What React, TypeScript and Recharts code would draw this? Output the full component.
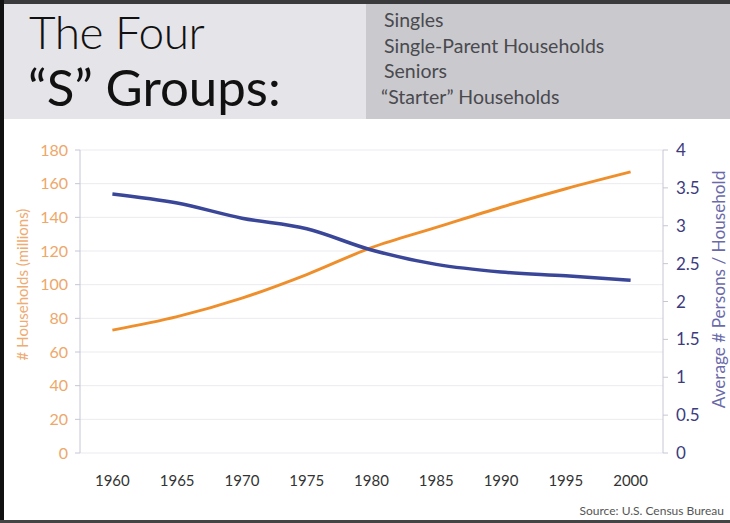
import React from 'react';
import { LineChart, Line, XAxis, YAxis, CartesianGrid } from 'recharts';

const years = [1960, 1965, 1970, 1975, 1980, 1985, 1990, 1995, 2000];
const households = [73, 81, 92, 106, 122, 134, 146, 157, 167]; // millions
const personsPerHousehold = [3.42, 3.3, 3.1, 2.96, 2.68, 2.49, 2.39, 2.34, 2.28];
const householdTicks = [0, 20, 40, 60, 80, 100, 120, 140, 160, 180];
const personTicks = [0, 0.5, 1, 1.5, 2, 2.5, 3, 3.5, 4];
// tick marks sit between the year labels
const yearTickMarks = [1962.5, 1967.5, 1972.5, 1977.5, 1982.5, 1987.5, 1992.5, 1997.5];
const groups = ['Singles', 'Single-Parent Households', 'Seniors', '\u201CStarter\u201D Households'];

const data = years.map((year, i) => ({
  year,
  households: households[i],
  persons: personsPerHousehold[i],
}));

const font = 'Lato, "DejaVu Sans", sans-serif';
const orange = '#ef8f2c';
const blue = '#3a4799';
const axisColor = '#c6c6d6';

// rotated axis title, a bit above the middle of the axis like the original
function axisTitle(text: string, side: 'left' | 'right', fill: string, size: number, inset: number, lift: number) {
  return (props: any) => {
    const vb = props.viewBox || {};
    const x = side === 'left' ? vb.x + inset : vb.x + vb.width - inset;
    const y = vb.y + vb.height / 2 - lift;
    return (
      <text
        x={x}
        y={y}
        transform={`rotate(-90, ${x}, ${y})`}
        textAnchor="middle"
        dominantBaseline="central"
        fill={fill}
        fontSize={size}
        fontFamily={font}
      >
        {text}
      </text>
    );
  };
}

export default function App() {
  return (
    <div style={{ position: 'absolute', left: 0, top: 0, width: 730, height: 523, background: '#fff', fontFamily: font, overflow: 'hidden' }}>
      <div style={{ position: 'absolute', left: 0, top: 0, width: 730, height: 4, background: '#3a3a3c' }} />
      <div style={{ position: 'absolute', left: 0, top: 4, width: 366, height: 115, background: '#e4e4e9' }} />
      <div style={{ position: 'absolute', left: 366, top: 4, width: 364, height: 115, background: '#c9c9ce' }} />
      <div style={{ position: 'absolute', left: 29, top: 4, fontSize: 46, fontWeight: 300, color: '#111', lineHeight: '56px', letterSpacing: -0.5 }}>
        The Four
      </div>
      <div style={{ position: 'absolute', left: 28, top: 57, fontSize: 51, fontWeight: 400, color: '#111', lineHeight: '60px' }}>
        {'\u201CS\u201D Groups:'}
      </div>
      {groups.map((g, i) => (
        <div key={g} style={{ position: 'absolute', left: i === 3 ? 381 : 384, top: 7 + i * 25.5, fontSize: 19.5, color: '#4a4a4e', lineHeight: '25px' }}>
          {g}
        </div>
      ))}

      <div style={{ position: 'absolute', left: 0, top: 120 }}>
        <LineChart width={730} height={403} data={data} margin={{ top: 30, right: 0, left: 0, bottom: 0 }}>
          <CartesianGrid yAxisId="left" xAxisId="main" vertical={false} stroke="#ebebf0" />
          <XAxis
            xAxisId="marks"
            type="number"
            dataKey="year"
            domain={[1957.5, 2002.5]}
            ticks={yearTickMarks}
            height={0}
            tickSize={5}
            tickFormatter={() => ''}
            axisLine={{ stroke: axisColor }}
            tickLine={{ stroke: axisColor }}
          />
          <XAxis
            xAxisId="main"
            type="number"
            dataKey="year"
            domain={[1957.5, 2002.5]}
            ticks={years}
            height={70}
            tickSize={0}
            tickMargin={22}
            axisLine={false}
            tickLine={false}
            tick={{ fill: '#333', fontSize: 15, fontFamily: font }}
          />
          <YAxis
            yAxisId="left"
            domain={[0, 180]}
            ticks={householdTicks}
            width={80}
            tickSize={5}
            tickMargin={7}
            axisLine={{ stroke: axisColor }}
            tickLine={{ stroke: axisColor }}
            tick={{ fill: '#eea76a', fontSize: 16, fontFamily: font }}
            label={{ content: axisTitle('# Households (millions)', 'left', '#eeab72', 15, 22, 17) }}
          />
          <YAxis
            yAxisId="right"
            orientation="right"
            domain={[0, 4]}
            ticks={personTicks}
            width={67}
            tickSize={5}
            tickMargin={8}
            axisLine={{ stroke: axisColor }}
            tickLine={{ stroke: axisColor }}
            tick={{ fill: '#3b3b7e', fontSize: 17, fontFamily: font }}
            label={{ content: axisTitle('Average # Persons / Household', 'right', '#6a6aaa', 17.2, 12, 12) }}
          />
          <Line
            xAxisId="main"
            yAxisId="left"
            type="monotone"
            dataKey="households"
            stroke={orange}
            strokeWidth={3}
            dot={false}
            isAnimationActive={false}
          />
          <Line
            xAxisId="main"
            yAxisId="right"
            type="monotone"
            dataKey="persons"
            stroke={blue}
            strokeWidth={3.5}
            dot={false}
            isAnimationActive={false}
          />
        </LineChart>
      </div>

      <div style={{ position: 'absolute', right: 6, top: 503, fontSize: 12, color: '#555' }}>
        Source: U.S. Census Bureau
      </div>
      <div style={{ position: 'absolute', left: 0, top: 0, width: 4, height: 523, background: '#111' }} />
      <div style={{ position: 'absolute', left: 0, top: 520, width: 730, height: 3, background: '#444' }} />
    </div>
  );
}
